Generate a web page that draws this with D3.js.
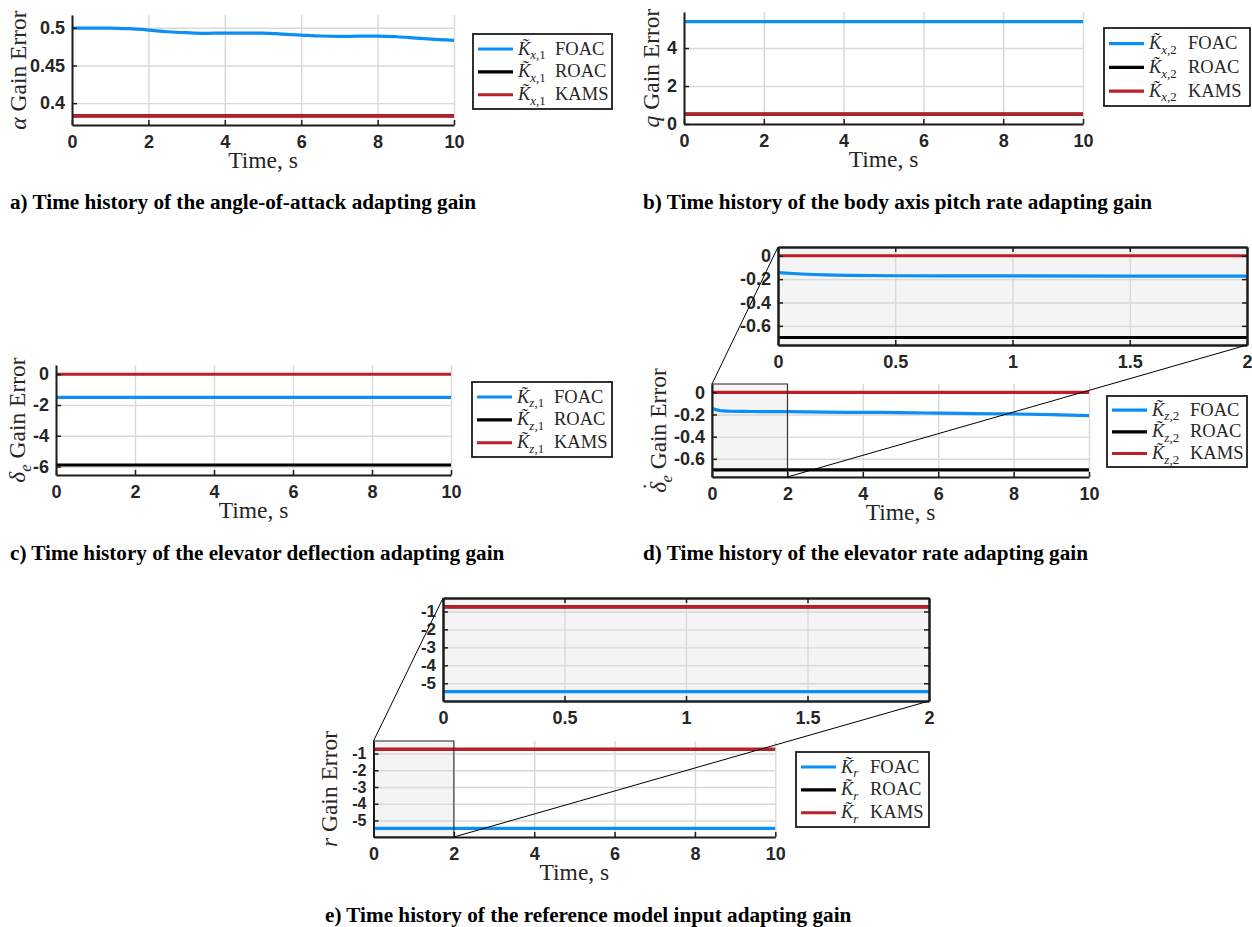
<!DOCTYPE html>
<html>
<head>
<meta charset="utf-8">
<script src="https://cdn.jsdelivr.net/npm/d3@7"></script>
<style>
  body { margin: 0; background: #fff; }
  svg { display: block; }
</style>
</head>
<body>
<svg id="chart" width="1252" height="927"></svg>
<script>
// ---- data ----
const timeEnds = [0, 10];
const timeTicks = [0, 2, 4, 6, 8, 10];
const zoomTicks = [0, 0.5, 1, 1.5, 2];

// a) angle-of-attack gain
const timeAlpha = [0, 1, 1.5, 2, 2.5, 3, 3.5, 4, 5, 5.5, 6, 6.5, 7, 7.5, 8, 8.5, 9, 9.5, 10];
const alphaFOAC = [0.4997, 0.4997, 0.4988, 0.4970, 0.4948, 0.4935, 0.4927, 0.4930, 0.4930, 0.4917, 0.4904, 0.4891, 0.4886, 0.4889, 0.4890, 0.4881, 0.4864, 0.4847, 0.4833];
const alphaROAC = [0.383, 0.383];
const alphaKAMS = [0.383, 0.383];
const alphaTicks = [0.4, 0.45, 0.5];

// b) pitch rate gain
const qFOAC = [5.39, 5.39];
const qROAC = [0.52, 0.52];
const qKAMS = [0.52, 0.52];
const qTicks = [0, 2, 4];

// c) elevator deflection gain
const deFOAC = [-1.5, -1.5];
const deROAC = [-5.9, -5.9];
const deKAMS = [0, 0];
const deTicks = [-6, -4, -2, 0];

// d) elevator rate gain
const timeDeRate = [0, 0.1, 0.2, 0.3, 0.5, 1, 2, 3, 4, 5, 6, 7, 8, 9, 10];
const deRateFOAC = [-0.145, -0.156, -0.164, -0.168, -0.171, -0.173, -0.175, -0.179, -0.181, -0.183, -0.188, -0.192, -0.195, -0.202, -0.21];
const deRateROAC = [-0.70, -0.70];
const deRateKAMS = [0, 0];
const deRateTicks = [-0.6, -0.4, -0.2, 0];

// e) reference model input gain
const rFOAC = [-5.47, -5.47];
const rROAC = [-0.75, -0.75];
const rKAMS = [-0.75, -0.75];
const rTicks = [-5, -4, -3, -2, -1];

const seriesNames = ["FOAC", "ROAC", "KAMS"];

// ---- styles ----
const INK = "#262626";
const AXIS = "#1c1c1c";
const GRID = "#d9d9d9";
const ZOOM_BG = "#f4f4f4";
const COLORS = { FOAC: "#0d8ef5", ROAC: "#000000", KAMS: "#bd1f29" };
const SERIF = '"Liberation Serif","Times New Roman",serif';
const SANS = '"Liberation Sans",Arial,Helvetica,sans-serif';
const TICK_SIZE = 18;
const LABEL_SIZE = 23.5;
const LEGEND_SIZE = 18.5;

const svg = d3.select("#chart");
const defs = svg.append("defs");
let clipCount = 0;

// text made of parts: {t, it, sub, dot}
function richText(sel, parts, size) {
  let cur = 0;
  parts.forEach(p => {
    const target = p.sub ? size * 0.25 : p.dot ? -size * 0.3 : 0;
    const ts = sel.append("tspan").text(p.t);
    if (p.it) ts.attr("font-style", "italic");
    if (p.sub) ts.attr("font-size", size * 0.7);
    if (p.dot) ts.attr("dx", -size * 0.36);
    if (p.x != null) ts.attr("x", p.x);
    if (target !== cur) { ts.attr("dy", target - cur); cur = target; }
  });
}

function styleAxis(s, labels, size) {
  s.select(".domain").attr("stroke", AXIS).attr("stroke-width", 2);
  s.selectAll(".tick line").attr("stroke", AXIS).attr("stroke-width", 1.5);
  s.selectAll(".tick text")
    .attr("font-family", SANS).attr("font-weight", "bold")
    .attr("font-size", size || TICK_SIZE).attr("fill", INK);
  if (!labels) s.selectAll(".tick text").remove();
}

function drawAxes(o) {
  const g = svg.append("g");
  const x = d3.scaleLinear().domain(o.xDom).range([o.left, o.right]);
  const y = d3.scaleLinear().domain(o.yDom).range([o.bottom, o.top]);
  const w = o.right - o.left, h = o.bottom - o.top;

  if (o.bg) g.append("rect").attr("x", o.left).attr("y", o.top).attr("width", w).attr("height", h).attr("fill", o.bg);
  if (o.zoomTo) {
    g.append("rect").attr("x", x(o.zoomTo[0])).attr("y", o.top)
      .attr("width", x(o.zoomTo[1]) - x(o.zoomTo[0])).attr("height", h).attr("fill", ZOOM_BG);
  }

  // grid
  g.append("g").attr("transform", `translate(0,${o.bottom})`)
    .call(d3.axisBottom(x).tickValues(o.xTicks).tickSize(-h).tickFormat(""))
    .call(s => { s.select(".domain").remove(); s.selectAll("line").attr("stroke", GRID).attr("stroke-width", 1.4); });
  g.append("g").attr("transform", `translate(${o.left},0)`)
    .call(d3.axisLeft(y).tickValues(o.yTicks).tickSize(-w).tickFormat(""))
    .call(s => { s.select(".domain").remove(); s.selectAll("line").attr("stroke", GRID).attr("stroke-width", 1.4); });

  // series
  const id = "clip" + (clipCount++);
  defs.append("clipPath").attr("id", id).append("rect")
    .attr("x", o.left).attr("y", o.top - 2).attr("width", w).attr("height", h + 4);
  const line = d3.line().x(d => x(d[0])).y(d => y(d[1])).curve(d3.curveMonotoneX);
  o.series.forEach(s => {
    g.append("path").datum(d3.zip(s.t, s.v))
      .attr("d", line).attr("fill", "none")
      .attr("stroke", COLORS[s.name]).attr("stroke-width", 3.2)
      .attr("clip-path", `url(#${id})`);
  });

  if (o.zoomTo) {
    g.append("rect").attr("x", x(o.zoomTo[0])).attr("y", o.top)
      .attr("width", x(o.zoomTo[1]) - x(o.zoomTo[0])).attr("height", h)
      .attr("fill", "none").attr("stroke", "#222").attr("stroke-width", 1);
  }

  // axes
  g.append("g").attr("transform", `translate(0,${o.bottom})`)
    .call(d3.axisBottom(x).tickValues(o.xTicks).tickSize(-5).tickSizeOuter(0).tickPadding(10).tickFormat(d => String(d)))
    .call(s => styleAxis(s, true));
  g.append("g").attr("transform", `translate(${o.left},0)`)
    .call(d3.axisLeft(y).tickValues(o.yTicks).tickSize(-5).tickSizeOuter(0).tickPadding(7).tickFormat(d => String(d)))
    .call(s => styleAxis(s, true, o.yTickSize));
  if (o.box) {
    g.append("g").attr("transform", `translate(0,${o.top})`)
      .call(d3.axisTop(x).tickValues(o.xTicks).tickSize(-5).tickSizeOuter(0).tickFormat(""))
      .call(s => styleAxis(s, false));
    g.append("g").attr("transform", `translate(${o.right},0)`)
      .call(d3.axisRight(y).tickValues(o.yTicks).tickSize(-5).tickSizeOuter(0).tickFormat(""))
      .call(s => styleAxis(s, false));
    g.selectAll(".domain").attr("stroke-width", 2.5);
  }

  // labels
  if (o.xLabel) {
    g.append("text").attr("x", (o.left + o.right) / 2).attr("y", o.bottom + 43)
      .attr("text-anchor", "middle").attr("font-family", SERIF).attr("font-size", LABEL_SIZE)
      .attr("fill", INK).text(o.xLabel);
  }
  if (o.yLabel) {
    const t = g.append("text")
      .attr("transform", `translate(${o.yLabelX},${(o.top + o.bottom) / 2}) rotate(-90)`)
      .attr("text-anchor", "middle").attr("font-family", SERIF).attr("font-size", LABEL_SIZE)
      .attr("fill", INK);
    richText(t, o.yLabel, LABEL_SIZE);
  }
  return { x, y };
}

function drawLegend(lg, sub) {
  const g = svg.append("g");
  g.append("rect").attr("x", lg.x).attr("y", lg.y).attr("width", lg.w).attr("height", lg.h)
    .attr("fill", "#fff").attr("stroke", AXIS).attr("stroke-width", 1.8);
  const rows = d3.scalePoint().domain(seriesNames).range([lg.y + lg.h * 0.2, lg.y + lg.h * 0.81]);
  seriesNames.forEach(n => {
    const cy = rows(n);
    g.append("line").attr("x1", lg.x + 5).attr("x2", lg.x + 40).attr("y1", cy).attr("y2", cy)
      .attr("stroke", COLORS[n]).attr("stroke-width", 3.2);
    const t = g.append("text").attr("x", lg.x + 45).attr("y", cy + 5.5)
      .attr("font-family", SERIF).attr("font-size", LEGEND_SIZE).attr("fill", INK);
    richText(t, [{ t: "K\u0303", it: true }].concat(sub).concat([{ t: n, x: lg.x + lg.nameDx }]), LEGEND_SIZE);
  });
}

function caption(x, y, text) {
  svg.append("text").attr("x", x).attr("y", y)
    .attr("font-family", SERIF).attr("font-weight", "bold").attr("font-size", 21.2)
    .attr("fill", "#000").text(text);
}

function connect(main, inset, o, zoomTo) {
  const g = svg.append("g").attr("stroke", "#000").attr("stroke-width", 1);
  g.append("line").attr("x1", main.x(zoomTo[0])).attr("y1", o.top).attr("x2", inset.left).attr("y2", inset.top);
  g.append("line").attr("x1", main.x(zoomTo[1])).attr("y1", o.bottom).attr("x2", inset.right).attr("y2", inset.bottom);
}

function series(t, f, r, k) {
  return [
    { name: "FOAC", t: t, v: f },
    { name: "ROAC", t: timeEnds, v: r },
    { name: "KAMS", t: timeEnds, v: k }
  ];
}

// ---- a ----
drawAxes({
  left: 72, right: 454, top: 15, bottom: 125,
  xDom: [0, 10], yDom: [0.371, 0.517], xTicks: timeTicks, yTicks: alphaTicks,
  series: series(timeAlpha, alphaFOAC, alphaROAC, alphaKAMS),
  xLabel: "Time, s", yLabelX: 26, yLabel: [{ t: "\u03b1", it: true }, { t: " Gain Error" }]
});
drawLegend({ x: 473, y: 34, w: 139, h: 75, nameDx: 82 }, [{ t: "x", it: true, sub: true }, { t: ",1", sub: true }]);
caption(10, 209, "a) Time history of the angle-of-attack adapting gain");

// ---- b ----
drawAxes({
  left: 684, right: 1083, top: 12, bottom: 124,
  xDom: [0, 10], yDom: [0, 5.9], xTicks: timeTicks, yTicks: qTicks,
  series: series(timeEnds, qFOAC, qROAC, qKAMS),
  xLabel: "Time, s", yLabelX: 659, yLabel: [{ t: "q", it: true }, { t: " Gain Error" }]
});
drawLegend({ x: 1104, y: 28, w: 146, h: 78, nameDx: 84 }, [{ t: "x", it: true, sub: true }, { t: ",2", sub: true }]);
caption(643, 209, "b) Time history of the body axis pitch rate adapting gain");

// ---- c ----
drawAxes({
  left: 56, right: 451, top: 365, bottom: 475,
  xDom: [0, 10], yDom: [-6.55, 0.6], xTicks: timeTicks, yTicks: deTicks,
  series: series(timeEnds, deFOAC, deROAC, deKAMS),
  xLabel: "Time, s", yLabelX: 25, yLabel: [{ t: "\u03b4", it: true }, { t: "e", it: true, sub: true }, { t: " Gain Error" }]
});
drawLegend({ x: 472, y: 382, w: 140, h: 75, nameDx: 82 }, [{ t: "z", it: true, sub: true }, { t: ",1", sub: true }]);
caption(10, 560, "c) Time history of the elevator deflection adapting gain");

// ---- d (with zoom) ----
const dOpt = {
  left: 712, right: 1089, top: 384, bottom: 477,
  xDom: [0, 10], yDom: [-0.764, 0.075], xTicks: timeTicks, yTicks: deRateTicks,
  series: series(timeDeRate, deRateFOAC, deRateROAC, deRateKAMS), zoomTo: [0, 2],
  xLabel: "Time, s", yLabelX: 666,
  yLabel: [{ t: "\u03b4", it: true }, { t: "\u02d9", dot: true }, { t: "e", it: true, sub: true }, { t: " Gain Error" }]
};
const dMain = drawAxes(dOpt);
const dInset = {
  left: 778, right: 1247, top: 247, bottom: 345, bg: ZOOM_BG, box: true,
  xDom: [0, 2], yDom: [-0.764, 0.075], xTicks: zoomTicks, yTicks: deRateTicks,
  series: series(timeDeRate, deRateFOAC, deRateROAC, deRateKAMS)
};
drawAxes(dInset);
drawLegend({ x: 1107, y: 396, w: 140, h: 71, nameDx: 83 }, [{ t: "z", it: true, sub: true }, { t: ",2", sub: true }]);
connect(dMain, dInset, dOpt, dOpt.zoomTo);
caption(643, 560, "d) Time history of the elevator rate adapting gain");

// ---- e (with zoom) ----
const eOpt = {
  left: 373.5, right: 775.3, top: 741, bottom: 837,
  xDom: [0, 10], yDom: [-5.99, -0.25], xTicks: timeTicks, yTicks: rTicks, yTickSize: 16,
  series: series(timeEnds, rFOAC, rROAC, rKAMS), zoomTo: [0, 2],
  xLabel: "Time, s", yLabelX: 337, yLabel: [{ t: "r", it: true }, { t: " Gain Error" }]
};
const eMain = drawAxes(eOpt);
const eInset = {
  left: 443, right: 929, top: 598, bottom: 701, bg: ZOOM_BG, box: true,
  xDom: [0, 2], yDom: [-5.99, -0.25], xTicks: zoomTicks, yTicks: rTicks, yTickSize: 17,
  series: series(timeEnds, rFOAC, rROAC, rKAMS)
};
drawAxes(eInset);
drawLegend({ x: 796, y: 752, w: 133, h: 75, nameDx: 74 }, [{ t: "r", it: true, sub: true }]);
connect(eMain, eInset, eOpt, eOpt.zoomTo);
caption(325, 922, "e) Time history of the reference model input adapting gain");
</script>
</body>
</html>
